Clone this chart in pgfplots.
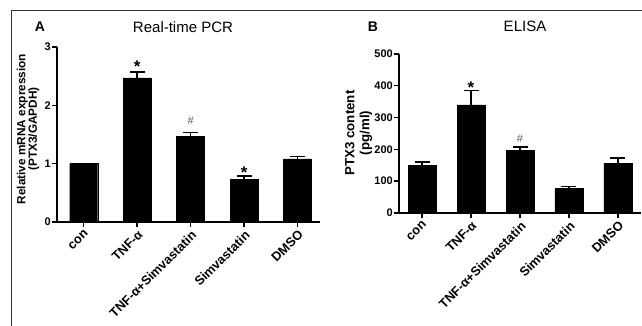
\documentclass[border=0pt]{standalone}
\usepackage{pgfplots}
\pgfplotsset{compat=1.18}
\usepackage{fontspec}
\setmainfont{Liberation Sans}
\begin{document}
\begin{tikzpicture}
\useasboundingbox (0pt,0pt) rectangle (642pt,326pt);
\draw[line width=0.9pt, black!80] (11pt,-5pt) -- (11pt,316pt) -- (650pt,316pt);
\pgfplotsset{
  panel/.style={
    scale only axis, anchor=south west,
    axis x line*=bottom, axis y line*=left,
    axis line style={-, line width=1.5pt, black},
    ybar, bar width=28pt,
    xtick={0,1,2,3,4},
    xticklabels={con, TNF-α, TNF-α+Simvastatin, Simvastatin, DMSO},
    tick align=outside, xtick pos=bottom, ytick pos=left,
    major tick length=5pt,
    tick style={line width=1.4pt, black},
    /pgf/number format/assume math mode=true,
    yticklabel style={font=\fontsize{11}{12}\selectfont\bfseries, inner sep=1pt},
    xticklabel style={rotate=45, anchor=north east, font=\fontsize{12.8}{14}\selectfont\bfseries, inner sep=1.5pt},
    enlargelimits=false, clip=false,
  },
  barplot/.style={fill=black, draw=black,
    error bars/.cd, y dir=plus, y explicit,
    error bar style={line width=1.5pt, black},
    error mark options={rotate=90, mark size=7.5pt, line width=1.5pt, black}},
}
% Panel A
\begin{axis}[panel, at={(57pt,104pt)}, width=263pt, height=175pt,
  xmin=-0.5, xmax=4.42, ymin=0, ymax=3, ytick={0,1,2,3},
  every axis y label/.style={at={(axis description cs:-0.110,0.531)}, rotate=90, anchor=center,
    align=center, font=\fontsize{11.8}{11.5}\selectfont\bfseries},
  ylabel={Relative mRNA expression\\(PTX3/GAPDH)}]
\addplot+[barplot] coordinates {
  (0,1.00) +- (0,0)
  (1,2.47) +- (0,0.10)
  (2,1.47) +- (0,0.06)
  (3,0.73) +- (0,0.06)
  (4,1.08) +- (0,0.04)
};
\node[anchor=base, font=\fontsize{17}{17}\selectfont\bfseries, yshift=0pt] at (axis cs:1,2.57) {*};
\node[anchor=base, font=\fontsize{11}{11}\selectfont, text=black!65, yshift=8pt] at (axis cs:2,1.53) {\#};
\node[anchor=base, font=\fontsize{17}{17}\selectfont\bfseries, yshift=-3pt] at (axis cs:3,0.79) {*};
\end{axis}
\node[font=\fontsize{14}{14}\selectfont\bfseries] at (40pt,299pt) {A};
\node[font=\fontsize{15}{15}\selectfont] at (183pt,299pt) {Real-time PCR};
% Panel B
\begin{axis}[panel, at={(399pt,113pt)}, width=242pt, height=159pt,
  xmin=-0.47, xmax=4.47, ymin=0, ymax=500, ytick={0,100,200,300,400,500},
  every axis y label/.style={at={(axis description cs:-0.167,0.503)}, rotate=90, anchor=center,
    align=center, font=\fontsize{13.3}{15}\selectfont\bfseries},
  ylabel={PTX3 content\\(pg/ml)}]
\addplot+[barplot] coordinates {
  (0,150) +- (0,10)
  (1,340) +- (0,45)
  (2,197) +- (0,10)
  (3,77) +- (0,7)
  (4,157) +- (0,16)
};
\node[anchor=base, font=\fontsize{17}{17}\selectfont\bfseries, yshift=-3pt] at (axis cs:1,385) {*};
\node[anchor=base, font=\fontsize{11}{11}\selectfont, text=black!65, yshift=5pt] at (axis cs:2,207) {\#};
\end{axis}
\node[font=\fontsize{14}{14}\selectfont\bfseries] at (373pt,299pt) {B};
\node[font=\fontsize{15}{15}\selectfont] at (525pt,300pt) {ELISA};
\end{tikzpicture}
\end{document}
